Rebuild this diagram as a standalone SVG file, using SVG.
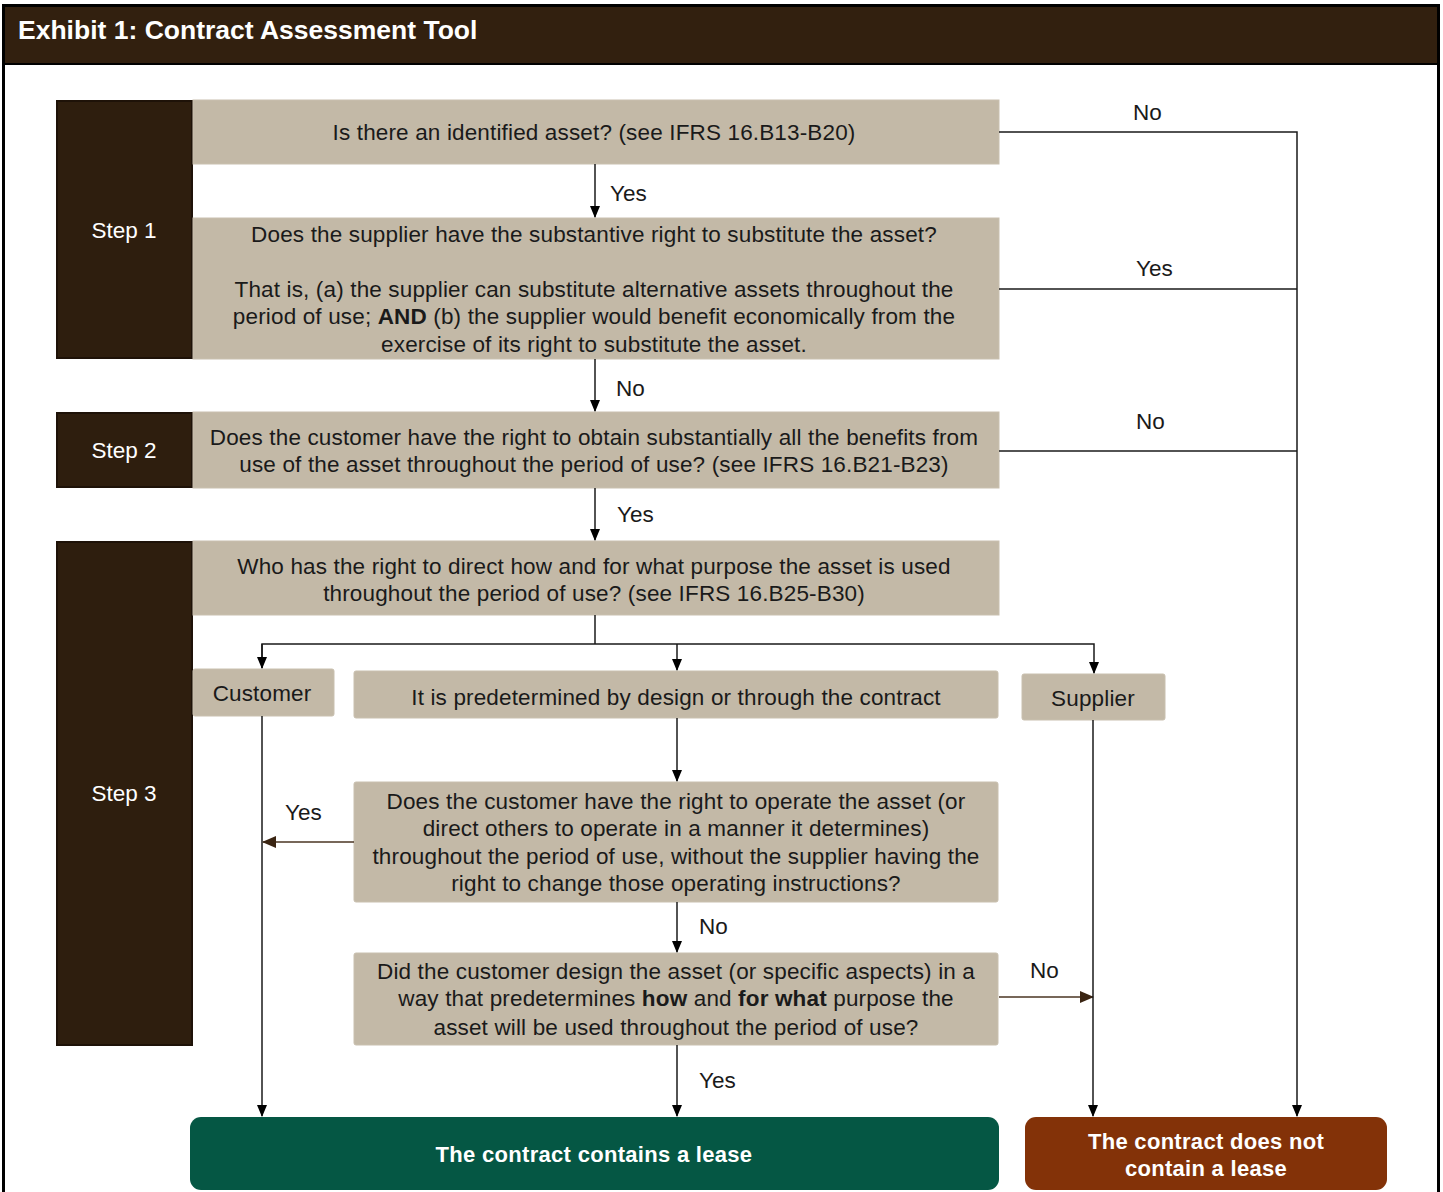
<svg xmlns="http://www.w3.org/2000/svg" width="1443" height="1192" viewBox="0 0 1443 1192">
<style>
.t{font-family:"Liberation Sans",Arial,sans-serif;font-size:22.5px;letter-spacing:0.15px;fill:#1a1a1a;text-anchor:middle}
.l{font-family:"Liberation Sans",Arial,sans-serif;font-size:22.5px;fill:#1a1a1a}
.s{font-family:"Liberation Sans",Arial,sans-serif;font-size:22.5px;fill:#ffffff;text-anchor:middle}
.w{font-family:"Liberation Sans",Arial,sans-serif;font-size:22px;letter-spacing:0.3px;font-weight:bold;fill:#ffffff;text-anchor:middle}
.box{fill:#C3B9A7;stroke:#C9C0AF;stroke-width:1}
.step{fill:#2E1E0E;stroke:#1E1208;stroke-width:2}
.c{fill:none;stroke:#1a1a1a;stroke-width:1.5}
.cb{fill:none;stroke:#4A3522;stroke-width:1.5}
</style>
<defs>
<marker id="a" markerWidth="12" markerHeight="10" refX="11" refY="5" orient="auto" markerUnits="userSpaceOnUse"><path d="M0,0 L12,5 L0,10 z" fill="#000"/></marker>
<marker id="ab" markerWidth="14" markerHeight="12" refX="13" refY="6" orient="auto" markerUnits="userSpaceOnUse"><path d="M0,0 L14,6 L0,12 z" fill="#3A2412"/></marker>
</defs>
<rect x="0" y="0" width="1443" height="1192" fill="#ffffff"/>
<g id="frame">
<rect x="3.5" y="5.5" width="1435" height="1200" fill="none" stroke="#000" stroke-width="3"/>
<rect x="4" y="6" width="1434" height="58" fill="#32200F" stroke="#000" stroke-width="2"/>
<text x="18" y="39" font-family="'Liberation Sans',Arial,sans-serif" font-size="26.5" font-weight="bold" fill="#ffffff">Exhibit 1: Contract Assessment Tool</text>
</g>
<g id="step1"><rect class="step" x="57" y="101" width="135" height="257"/><text class="s" x="124" y="238">Step 1</text></g>
<g id="step2"><rect class="step" x="57" y="413" width="135" height="74"/><text class="s" x="124" y="458">Step 2</text></g>
<g id="step3"><rect class="step" x="57" y="542" width="135" height="503"/><text class="s" x="124" y="801">Step 3</text></g>
<g id="q1"><rect class="box" x="193" y="100" width="806" height="64"/><text class="t" x="594" y="140">Is there an identified asset? (see IFRS 16.B13-B20)</text></g>
<g id="q2"><rect class="box" x="193" y="218" width="806" height="141"/>
<text class="t" x="594" y="242">Does the supplier have the substantive right to substitute the asset?</text>
<text class="t" x="594" y="297">That is, (a) the supplier can substitute alternative assets throughout the</text>
<text class="t" x="594" y="324">period of use; <tspan font-weight="bold">AND</tspan> (b) the supplier would benefit economically from the</text>
<text class="t" x="594" y="352">exercise of its right to substitute the asset.</text></g>
<g id="q3"><rect class="box" x="193" y="412" width="806" height="76"/>
<text class="t" x="594" y="445">Does the customer have the right to obtain substantially all the benefits from</text>
<text class="t" x="594" y="472">use of the asset throughout the period of use? (see IFRS 16.B21-B23)</text></g>
<g id="q4"><rect class="box" x="193" y="541" width="806" height="74"/>
<text class="t" x="594" y="574">Who has the right to direct how and for what purpose the asset is used</text>
<text class="t" x="594" y="601">throughout the period of use? (see IFRS 16.B25-B30)</text></g>
<g id="customer"><rect class="box" x="193" y="669" width="141" height="47" rx="2"/><text class="t" x="262" y="701">Customer</text></g>
<g id="predetermined"><rect class="box" x="354" y="671" width="644" height="47" rx="2"/><text class="t" x="676" y="705">It is predetermined by design or through the contract</text></g>
<g id="supplier"><rect class="box" x="1022" y="674" width="143" height="46" rx="2"/><text class="t" x="1093" y="706">Supplier</text></g>
<g id="q5"><rect class="box" x="354" y="782" width="644" height="120" rx="2"/>
<text class="t" x="676" y="809">Does the customer have the right to operate the asset (or</text>
<text class="t" x="676" y="836">direct others to operate in a manner it determines)</text>
<text class="t" x="676" y="864">throughout the period of use, without the supplier having the</text>
<text class="t" x="676" y="891">right to change those operating instructions?</text></g>
<g id="q6"><rect class="box" x="354" y="953" width="644" height="92" rx="2"/>
<text class="t" x="676" y="979">Did the customer design the asset (or specific aspects) in a</text>
<text class="t" x="676" y="1006">way that predetermines <tspan font-weight="bold">how</tspan> and <tspan font-weight="bold">for what</tspan> purpose the</text>
<text class="t" x="676" y="1035">asset will be used throughout the period of use?</text></g>
<g id="lease"><rect x="190" y="1117" width="809" height="73" rx="11" fill="#055744"/><text class="w" x="594" y="1162">The contract contains a lease</text></g>
<g id="nolease"><rect x="1025" y="1117" width="362" height="73" rx="11" fill="#833208"/>
<text class="w" x="1206" y="1149">The contract does not</text>
<text class="w" x="1206" y="1176">contain a lease</text></g>
<g id="connectors">
<path class="c" d="M595,164 V217" marker-end="url(#a)"/>
<path class="c" d="M595,359 V411" marker-end="url(#a)"/>
<path class="c" d="M595,488 V540" marker-end="url(#a)"/>
<path class="c" d="M999,132 H1297 V1116" marker-end="url(#a)"/>
<path class="c" d="M999,289 H1297"/>
<path class="c" d="M999,451 H1297"/>
<path class="c" d="M595,615 V644"/>
<path class="c" d="M262,668 V644 H1094 V673" marker-end="url(#a)"/>
<path class="c" d="M262,644 V668" marker-end="url(#a)"/>
<path class="c" d="M677,644 V670" marker-end="url(#a)"/>
<path class="c" d="M262,716 V1116" marker-end="url(#a)"/>
<path class="c" d="M677,718 V781" marker-end="url(#a)"/>
<path class="cb" d="M354,842 H263" marker-end="url(#ab)"/>
<path class="c" d="M677,902 V952" marker-end="url(#a)"/>
<path class="cb" d="M999,997 H1093" marker-end="url(#ab)"/>
<path class="c" d="M1093,720 V1116" marker-end="url(#a)"/>
<path class="c" d="M677,1045 V1116" marker-end="url(#a)"/>
<text class="l" x="610" y="201">Yes</text>
<text class="l" x="616" y="396">No</text>
<text class="l" x="617" y="522">Yes</text>
<text class="l" x="1133" y="120">No</text>
<text class="l" x="1136" y="276">Yes</text>
<text class="l" x="1136" y="429">No</text>
<text class="l" x="285" y="820">Yes</text>
<text class="l" x="699" y="934">No</text>
<text class="l" x="1030" y="978">No</text>
<text class="l" x="699" y="1088">Yes</text>
</g>
</svg>
